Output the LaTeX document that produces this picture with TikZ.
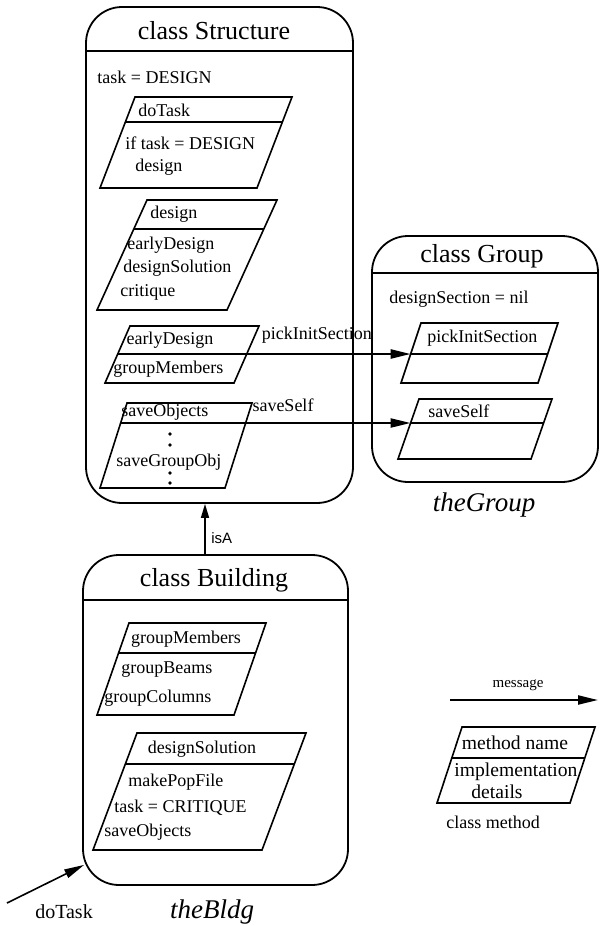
\documentclass[tikz,border=0pt]{standalone}
\usepackage{fontspec}
\setmainfont{Liberation Serif}
\newfontfamily\isafont{Liberation Sans}
\usetikzlibrary{arrows.meta,fit}

\tikzset{
    classbox/.style={draw, line width=0.9pt, rounded corners=18pt, inner sep=0pt},
    classname/.style={font=\fontsize{13}{15}\selectfont, inner sep=0pt},
    objname/.style={font=\fontsize{13.5}{16}\selectfont\itshape, inner sep=0pt},
    method/.style={draw, line width=0.8pt},
    txt/.style={font=\fontsize{9}{11}\selectfont, inner sep=0pt},
    legendtxt/.style={font=\fontsize{9.8}{11}\selectfont, inner sep=0pt},
    smalltxt/.style={font=\fontsize{7.5}{9}\selectfont, inner sep=0pt},
    msg/.style={line width=1.1pt, -{Triangle[length=10pt,width=4.5pt]}},
    isaarrow/.style={line width=0.8pt, -{Triangle[length=7pt,width=4pt]}},
}

\begin{document}
\begin{tikzpicture}[x=0.5pt, y=-0.5pt]
        \useasboundingbox (0,0) rectangle (600,926);

        % Classes
        \node[classbox, fit={(86,7) (353,503)}] (structure) {};
        \node[classbox, fit={(372,236) (598,482)}] (group) {};
        \node[classbox, fit={(83,555) (348,885)}] (building) {};
        \draw[line width=0.9pt] (86,51) -- (353,51);
        \draw[line width=0.9pt] (372,273) -- (598,273);
        \draw[line width=0.9pt] (83,600) -- (348,600);
        \node[classname] (structure-name) at (214,31) {class Structure};
        \node[classname] (group-name) at (482,256) {class Group};
        \node[classname] (building-name) at (214,580) {class Building};

        % class Structure
        \node[txt, anchor=west] (task) at (97,77) {task = DESIGN};

        \draw[method] (100,188) -- (257,188) -- (292,97) -- (135,97) -- cycle;
        \draw[method] (125.4,122) -- (282.4,122);
        \node[txt, anchor=west] (doTask-head) at (138,110) {doTask};
        \node[txt, anchor=west] (doTask-if) at (125,143) {if task = DESIGN};
        \node[txt, anchor=west] (doTask-call) at (135,167) {design};

        \draw[method] (97,310) -- (227,310) -- (277,200) -- (147,200) -- cycle;
        \draw[method] (133.8,229) -- (263.8,229);
        \node[txt, anchor=west] (design-head) at (150,214) {design};
        \node[txt, anchor=west] (design-early) at (127,245) {earlyDesign};
        \node[txt, anchor=west] (design-solution) at (123,268) {designSolution};
        \node[txt, anchor=west] (design-critique) at (120,292) {critique};

        \draw[method] (105,383) -- (234,383) -- (259,326) -- (130,326) -- cycle;
        \draw[method] (117.7,354) -- (246.7,354);
        \node[txt] (early-head) at (170,340) {earlyDesign};
        \node[txt, anchor=west] (early-members) at (113,369) {groupMembers};
        \coordinate (early-out) at (117.7,354);

        \draw[method] (100,488) -- (225,488) -- (252,403) -- (127,403) -- cycle;
        \draw[method] (120.6,423) -- (245.6,423);
        \node[txt, anchor=west] (save-head) at (121,412) {saveObjects};
        \node[txt, anchor=west] (save-group) at (116,462) {saveGroupObj};
        \coordinate (save-out) at (120.6,423);
        \foreach \y in {434,445,473,483}
            \fill (170,\y) circle[radius=0.9pt];

        % class Group
        \node[txt, anchor=west] (section) at (389,299) {designSection = nil};

        \draw[method] (401,383) -- (538,383) -- (558,323) -- (421,323) -- cycle;
        \draw[method] (410.7,354) -- (547.7,354);
        \node[txt, anchor=west] (pick-head) at (427,338) {pickInitSection};
        \coordinate (pick-in) at (410.7,354);

        \draw[method] (398,459) -- (531,459) -- (552,399) -- (419,399) -- cycle;
        \draw[method] (410.6,423) -- (543.6,423);
        \node[txt, anchor=west] (self-head) at (428,411) {saveSelf};
        \coordinate (self-in) at (410.6,423);

        \node[objname] (theGroup) at (484,505) {theGroup};

        % class Building
        \draw[method] (97,715) -- (234,715) -- (266,623) -- (129,623) -- cycle;
        \draw[method] (118.6,653) -- (255.6,653);
        \node[txt] (members-head) at (186,639) {groupMembers};
        \node[txt, anchor=west] (members-beams) at (121,670) {groupBeams};
        \node[txt, anchor=west] (members-columns) at (104,698) {groupColumns};

        \draw[method] (93,850) -- (262,850) -- (306,733) -- (137,733) -- cycle;
        \draw[method] (125.3,764) -- (294.3,764);
        \node[txt] (solution-head) at (202,749) {designSolution};
        \node[txt, anchor=west] (solution-pop) at (128,782) {makePopFile};
        \node[txt, anchor=west] (solution-task) at (114,808) {task = CRITIQUE};
        \node[txt, anchor=west] (solution-save) at (104,832) {saveObjects};

        \node[objname] (theBldg) at (212,912) {theBldg};

        % Legend
        \node[smalltxt] (message) at (518,685) {message};
        \coordinate (legend-from) at (450,700);
        \coordinate (legend-to) at (598,700);
        \draw[method] (437,803) -- (570,803) -- (595,727) -- (462,727) -- cycle;
        \draw[method] (451.8,758) -- (584.8,758);
        \node[legendtxt] (legend-head) at (515,743) {method name};
        \node[legendtxt] (legend-impl) at (516,772) {implementation};
        \node[legendtxt] (legend-details) at (497,792) {details};
        \node[txt] (legend-caption) at (493,822) {class method};

        % Arrows
        \draw[msg] (early-out) -- (pick-in) node[txt, pos=0.68, above=5pt] (pick-label) {pickInitSection};
        \draw[msg] (save-out) -- (self-in) node[txt, pos=0.56, above=5pt] (self-label) {saveSelf};
        \draw[msg] (legend-from) -- (legend-to);
        \coordinate (isa) at (205,530);
        \draw[isaarrow] (building.north -| isa) -- (structure.south -| isa);
        \node[smalltxt, font=\isafont\fontsize{7.5}{9}\selectfont, anchor=west] (isa-label) at (211,538) {isA};
        \coordinate (doTask-from) at (7,903);
        \draw[msg, line width=0.8pt] (doTask-from) -- ([shift={(2,-21)}]building.south west);
        \node[txt, font=\fontsize{10}{12}\selectfont] (doTask-label) at (64,912) {doTask};

\end{tikzpicture}
\end{document}
